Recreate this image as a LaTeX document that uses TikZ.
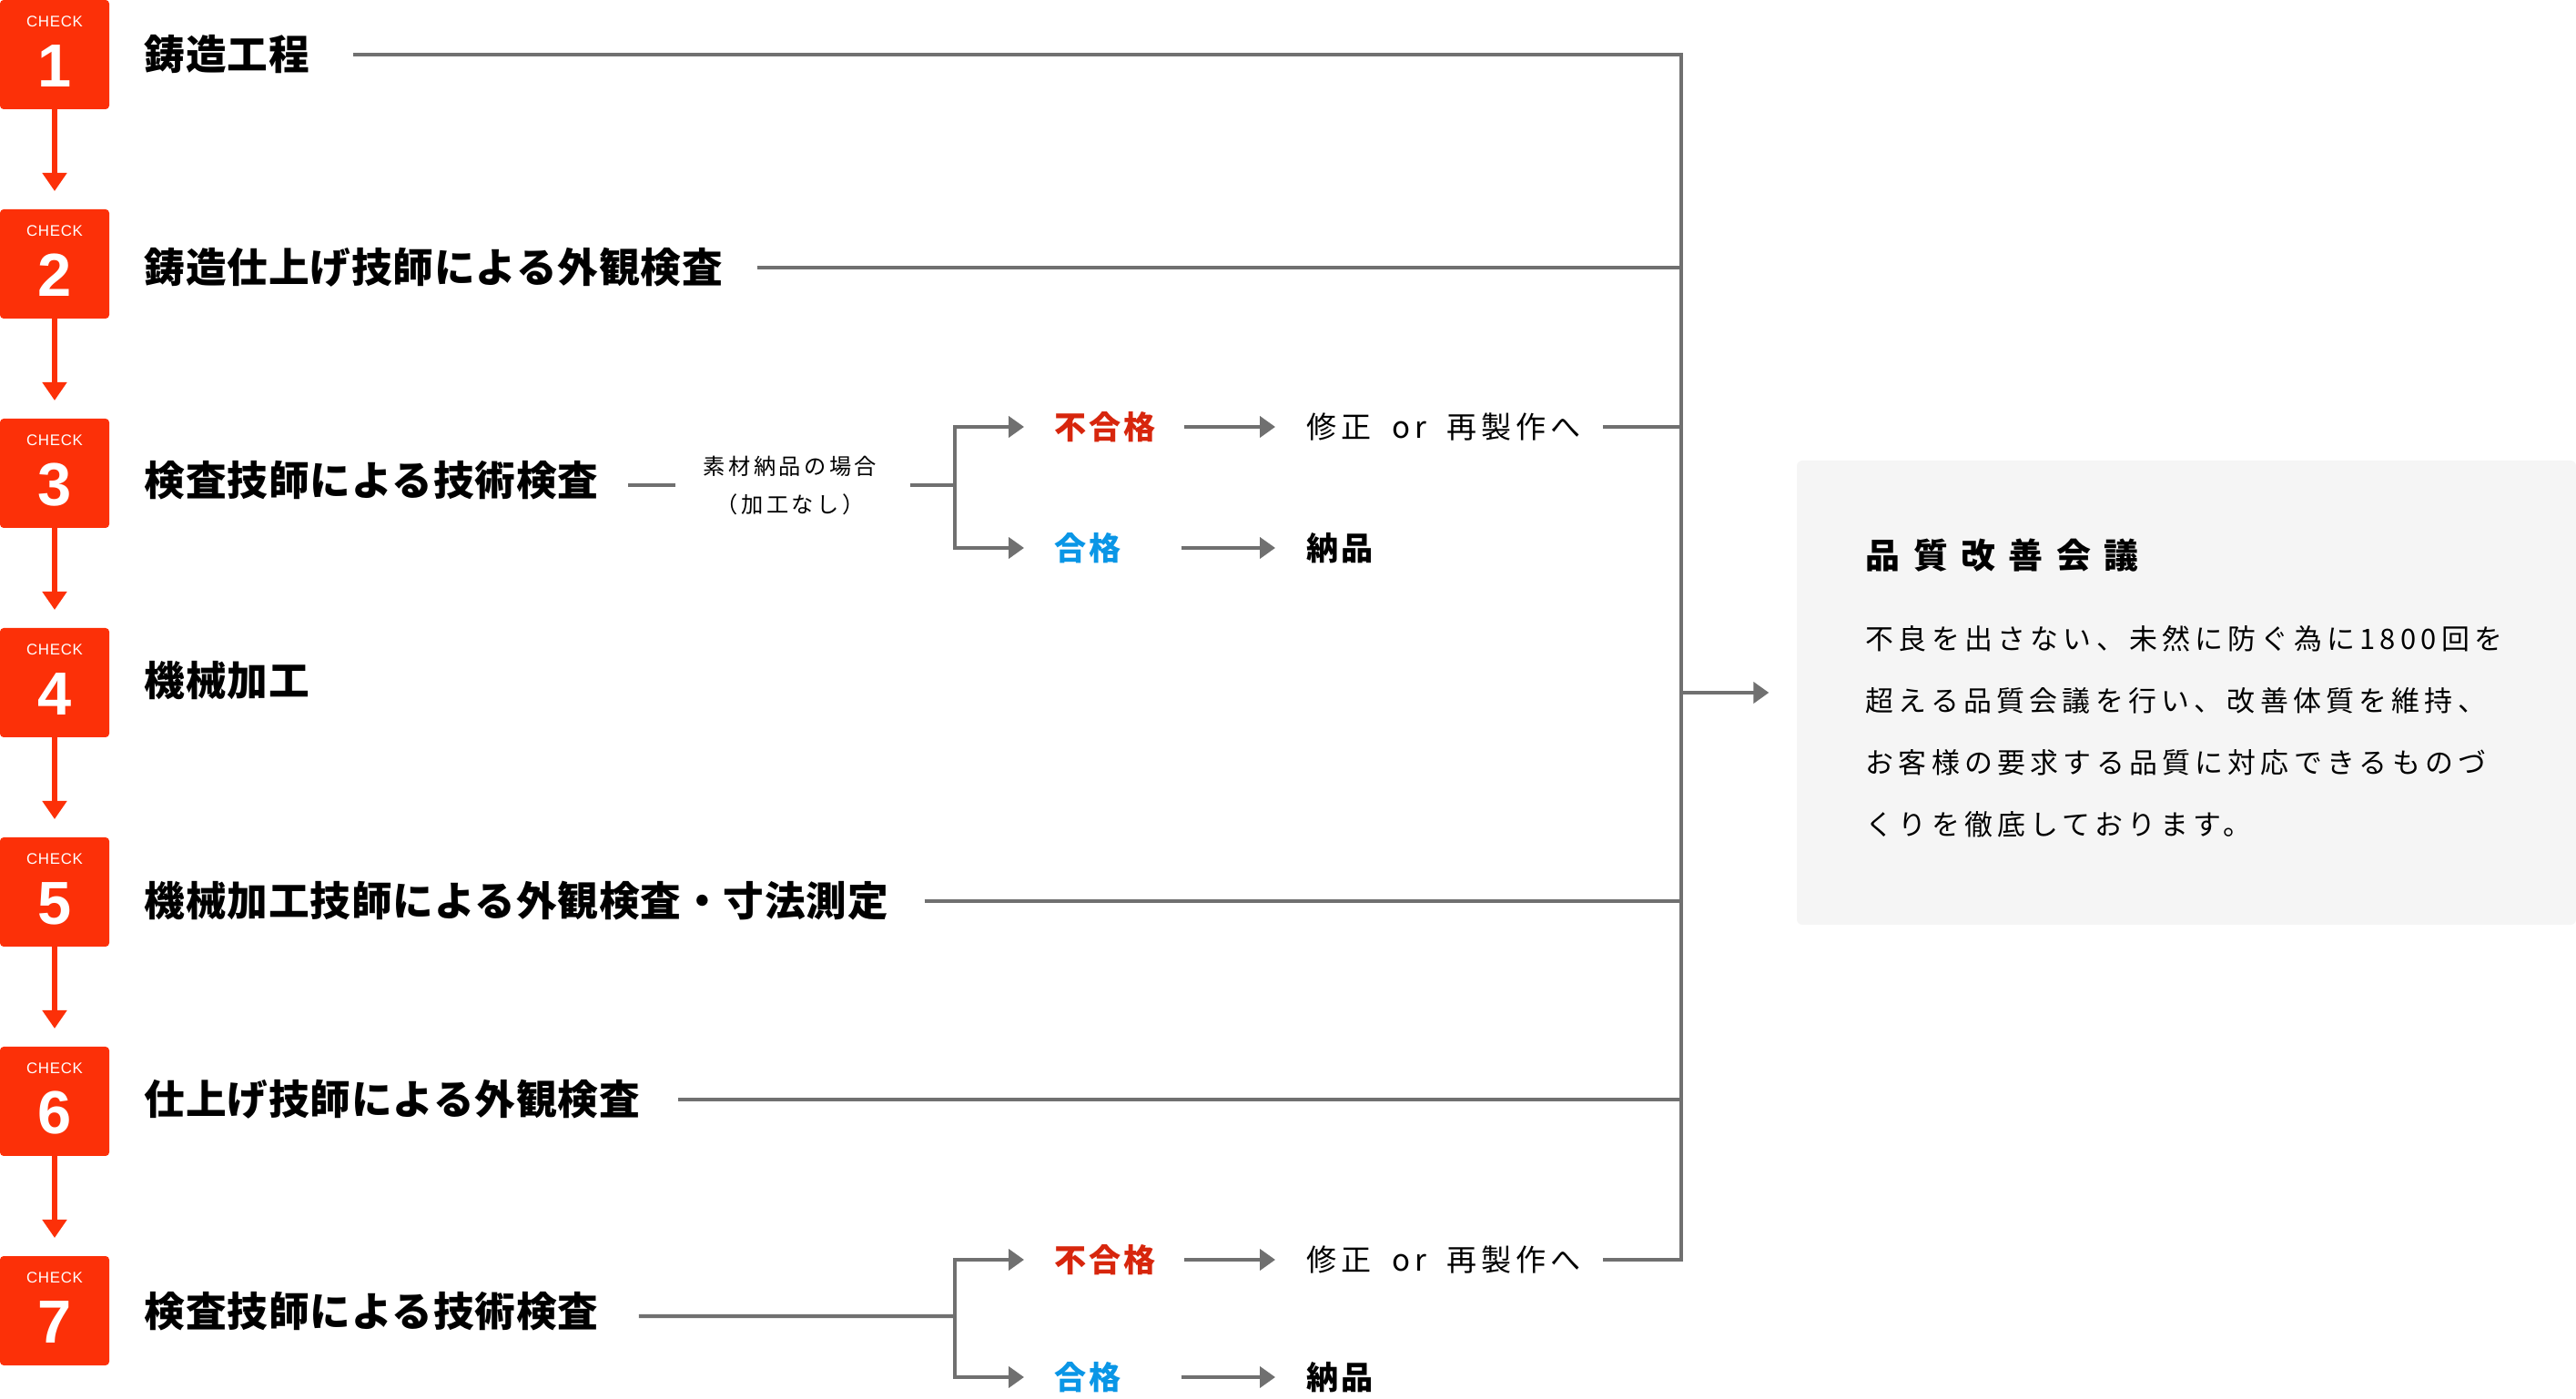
\documentclass[tikz,border=0pt]{standalone}
\usepackage{fontspec}
\usepackage{xcolor}
\newfontfamily\jpfont{Noto Sans CJK JP}[LetterSpace=2]
\newfontfamily\jpnote{Noto Sans CJK JP}[LetterSpace=14]
\newfontfamily\jpjudge{Noto Sans CJK JP}[LetterSpace=8]
\newfontfamily\jpwide{Noto Sans CJK JP}[LetterSpace=15]
\newfontfamily\jpbody{Noto Sans CJK JP}[LetterSpace=17]
\newfontfamily\jptitle{Noto Sans CJK JP}[LetterSpace=38]
\newfontfamily\numfont{Liberation Sans}
\newfontfamily\tagfont{Liberation Sans}[LetterSpace=4]
\definecolor{checkred}{HTML}{FC3008}
\definecolor{flowgray}{HTML}{707070}
\definecolor{failred}{HTML}{D7260D}
\definecolor{passblue}{HTML}{0A96E6}
\definecolor{panelgray}{HTML}{F5F5F5}
\usetikzlibrary{arrows.meta,positioning}

\tikzset{
  checkbox/.style={fill=checkred, rounded corners=0.04cm, minimum width=1.2cm, minimum height=1.2cm, inner sep=0pt, outer sep=0pt},
  checktag/.style={text=white, inner sep=0pt, font=\tagfont\fontsize{4.8pt}{5pt}\selectfont},
  checknum/.style={text=white, inner sep=0pt, font=\numfont\bfseries\fontsize{19pt}{20pt}\selectfont},
  checkarrow/.style={draw=checkred, line width=1.7pt, -{Triangle[length=5.7pt,width=7.4pt]}, shorten >=0.2cm},
  steplabel/.style={anchor=west, inner sep=0pt, font=\jpfont\bfseries\fontsize{12.7pt}{15pt}\selectfont},
  note/.style={inner sep=0pt, align=center, font=\jpnote\fontsize{6.9pt}{11.95pt}\selectfont},
  judge/.style={anchor=west, inner sep=0pt, font=\jpjudge\bfseries\fontsize{10pt}{12pt}\selectfont},
  result/.style={anchor=west, inner sep=0pt, font=\jpwide\fontsize{9.4pt}{11pt}\selectfont},
  flowline/.style={draw=flowgray, line width=1.14pt},
  flowarrow/.style={flowline, -{Triangle[length=4.8pt,width=6.5pt]}},
  panel/.style={fill=panelgray, rounded corners=0.06cm, minimum width=8.56cm, minimum height=5.10cm, inner sep=0pt},
  paneltitle/.style={anchor=west, inner sep=0pt, font=\jptitle\bfseries\fontsize{10.8pt}{13pt}\selectfont},
  panelbody/.style={anchor=west, inner sep=0pt, align=left, font=\jpbody\fontsize{8.8pt}{19.35pt}\selectfont}
}

\begin{document}
\begin{tikzpicture}
  \useasboundingbox (0,0) rectangle (28.30,15.36);

  % Check boxes
  \node[checkbox] (c1) at (0.60,14.76) {};
  \node[checktag] at ([yshift=0.36cm]c1.center) {CHECK};
  \node[checknum] at ([yshift=-0.125cm]c1.center) {1};
  \node[checkbox] (c2) at (0.60,12.46) {};
  \node[checktag] at ([yshift=0.36cm]c2.center) {CHECK};
  \node[checknum] at ([yshift=-0.125cm]c2.center) {2};
  \node[checkbox] (c3) at (0.60,10.16) {};
  \node[checktag] at ([yshift=0.36cm]c3.center) {CHECK};
  \node[checknum] at ([yshift=-0.125cm]c3.center) {3};
  \node[checkbox] (c4) at (0.60,7.86) {};
  \node[checktag] at ([yshift=0.36cm]c4.center) {CHECK};
  \node[checknum] at ([yshift=-0.125cm]c4.center) {4};
  \node[checkbox] (c5) at (0.60,5.56) {};
  \node[checktag] at ([yshift=0.36cm]c5.center) {CHECK};
  \node[checknum] at ([yshift=-0.125cm]c5.center) {5};
  \node[checkbox] (c6) at (0.60,3.26) {};
  \node[checktag] at ([yshift=0.36cm]c6.center) {CHECK};
  \node[checknum] at ([yshift=-0.125cm]c6.center) {6};
  \node[checkbox] (c7) at (0.60,0.96) {};
  \node[checktag] at ([yshift=0.36cm]c7.center) {CHECK};
  \node[checknum] at ([yshift=-0.125cm]c7.center) {7};

  % Red arrows between checks
  \draw[checkarrow] (c1) -- (c2);
  \draw[checkarrow] (c2) -- (c3);
  \draw[checkarrow] (c3) -- (c4);
  \draw[checkarrow] (c4) -- (c5);
  \draw[checkarrow] (c5) -- (c6);
  \draw[checkarrow] (c6) -- (c7);

  % Step labels
  \node[steplabel] (l1) at (1.58,14.76) {鋳造工程};
  \node[steplabel] (l2) at (1.58,12.42) {鋳造仕上げ技師による外観検査};
  \node[steplabel] (l3) at (1.58,10.08) {検査技師による技術検査};
  \node[steplabel] (l4) at (1.58,7.88) {機械加工};
  \node[steplabel] (l5) at (1.58,5.46) {機械加工技師による外観検査・寸法測定};
  \node[steplabel] (l6) at (1.58,3.28) {仕上げ技師による外観検査};
  \node[steplabel] (l7) at (1.58,0.95) {検査技師による技術検査};

  % Branch after check 3
  \node[note] (cond3) at (8.68,10.03) {素材納品の場合\\（加工なし）};
  \coordinate (fork3) at (10.49,10.03);
  \node[judge, text=failred] (fail3) at (11.58,10.67) {不合格};
  \node[judge, text=passblue] (pass3) at (11.58,9.34) {合格};
  \node[result] (fix3) at (14.35,10.67) {修正\hspace{0.1cm} or\hspace{0.1cm} 再製作へ};
  \node[judge] (ship3) at (14.35,9.34) {納品};
  \draw[flowline] ([xshift=0.32cm, yshift=-0.05cm]l3.east) -- ([xshift=-0.30cm]cond3.west);
  \draw[flowline] ([xshift=0.36cm]cond3.east) -- (fork3);
  \draw[flowarrow] (fork3) |- ([xshift=-0.33cm]fail3.west);
  \draw[flowarrow] (fork3) |- ([xshift=-0.33cm]pass3.west);
  \draw[flowarrow] ([xshift=0.31cm]fail3.east) -- ([xshift=-0.34cm]fix3.west);
  \draw[flowarrow] ([xshift=0.65cm]pass3.east) -- ([xshift=-0.34cm]ship3.west);

  % Branch after check 7
  \coordinate (fork7) at (10.49,0.90);
  \node[judge, text=failred] (fail7) at (11.58,1.52) {不合格};
  \node[judge, text=passblue] (pass7) at (11.58,0.23) {合格};
  \node[result] (fix7) at (14.35,1.52) {修正\hspace{0.1cm} or\hspace{0.1cm} 再製作へ};
  \node[judge] (ship7) at (14.35,0.23) {納品};
  \draw[flowline] ([xshift=0.44cm, yshift=-0.05cm]l7.east) -- (fork7);
  \draw[flowarrow] (fork7) |- ([xshift=-0.33cm]fail7.west);
  \draw[flowarrow] (fork7) |- ([xshift=-0.33cm]pass7.west);
  \draw[flowarrow] ([xshift=0.31cm]fail7.east) -- ([xshift=-0.34cm]fix7.west);
  \draw[flowarrow] ([xshift=0.65cm]pass7.east) -- ([xshift=-0.34cm]ship7.west);

  % Collecting line
  \coordinate (bus) at (18.47,0);
  \draw[flowline] ([xshift=0.47cm]l1.east) -- (l1 -| bus) -- (bus |- fail7) -- ([xshift=0.24cm]fix7.east);
  \draw[flowline] ([xshift=0.37cm]l2.east) -- (l2 -| bus);
  \draw[flowline] ([xshift=0.24cm]fix3.east) -- (fix3 -| bus);
  \draw[flowline] ([xshift=0.39cm]l5.east) -- (l5 -| bus);
  \draw[flowline] ([xshift=0.41cm]l6.east) -- (l6 -| bus);

  % Quality meeting panel
  \node[panel] (qc) at (24.02,7.75) {};
  \draw[flowarrow] (bus |- qc.west) -- ([xshift=-0.30cm]qc.west);
  \node[paneltitle] (qctitle) at (20.49,9.26) {品質改善会議};
  \node[panelbody] (qcbody) at (20.49,7.32) {不良を出さない、未然に防ぐ為に1800回を\\超える品質会議を行い、改善体質を維持、\\お客様の要求する品質に対応できるものづ\\くりを徹底しております。};
\end{tikzpicture}
\end{document}
